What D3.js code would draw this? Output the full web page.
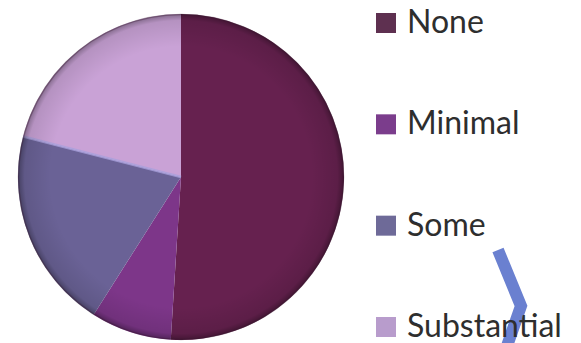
<!DOCTYPE html>
<html>
<head>
<meta charset="utf-8">
<script src="https://cdn.jsdelivr.net/npm/d3@7"></script>
<style>
  html, body { margin: 0; padding: 0; background: #ffffff; }
  svg { display: block; }
</style>
</head>
<body>
<svg id="chart" width="581" height="343"></svg>
<script>
// Share of responses by level (percent)
const categories = ["None", "Minimal", "Some", "Substantial"];
const values = [51, 8, 20, 21];
const sliceColors = ["#66214f", "#7d3689", "#6a6296", "#c9a2d6"];
const swatchColors = ["#5e3050", "#7b3d8c", "#6e6a98", "#b89ccc"];

const svg = d3.select("#chart");
const cx = 181, cy = 177, r = 163;

const defs = svg.append("defs");
// Rim shading that gives the disc a slightly domed look
const rim = defs.append("radialGradient").attr("id", "rim")
  .attr("cx", "50%").attr("cy", "50%").attr("r", "50%");
rim.append("stop").attr("offset", "0.80").attr("stop-color", "#000").attr("stop-opacity", 0);
rim.append("stop").attr("offset", "0.96").attr("stop-color", "#000").attr("stop-opacity", 0.10);
rim.append("stop").attr("offset", "1").attr("stop-color", "#000").attr("stop-opacity", 0.35);

const pie = d3.pie().sort(null).value(d => d.v);
const arcs = pie(categories.map((c, i) => ({ c, v: values[i], i })));
const arc = d3.arc().innerRadius(0).outerRadius(r);

const g = svg.append("g").attr("transform", `translate(${cx},${cy})`);
g.selectAll("path.slice").data(arcs).join("path")
  .attr("class", "slice")
  .attr("d", arc)
  .attr("fill", d => sliceColors[d.data.i]);

// light edge along the Some / Substantial boundary
const edgeAngle = arcs[2].endAngle;
g.append("line")
  .attr("x1", 0).attr("y1", 0)
  .attr("x2", Math.sin(edgeAngle) * r).attr("y2", -Math.cos(edgeAngle) * r)
  .attr("stroke", "#a9a0dc").attr("stroke-width", 2.5).attr("stroke-opacity", 0.8);

g.append("circle").attr("r", r).attr("fill", "url(#rim)");
g.append("circle").attr("r", r - 0.5).attr("fill", "none")
  .attr("stroke", "#3a1a30").attr("stroke-opacity", 0.35).attr("stroke-width", 1.5);

// decorative chevron
svg.append("path")
  .attr("d", d3.line()([[498, 250], [521, 306], [507, 346]]))
  .attr("fill", "none").attr("stroke", "#6a80d0").attr("stroke-width", 12);

// Legend
const legendY = d3.scalePoint().domain(categories).range([33, 337]);
const leg = svg.append("g").selectAll("g").data(categories).join("g")
  .attr("transform", d => `translate(376,${legendY(d)})`);
leg.append("rect")
  .attr("x", 0).attr("y", -20).attr("width", 20).attr("height", 20)
  .attr("fill", (d, i) => swatchColors[i]);
leg.append("text")
  .attr("x", 31).attr("y", 0)
  .attr("font-family", "Lato, 'Open Sans', sans-serif")
  .attr("font-size", 32)
  .attr("fill", "#2e2e2e")
  .text(d => d);
</script>
</body>
</html>
